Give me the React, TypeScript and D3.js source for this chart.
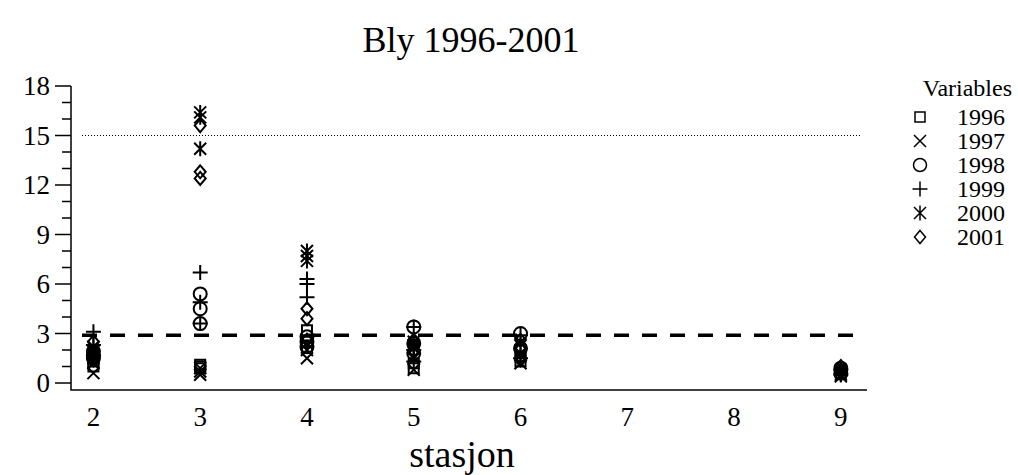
import React from "react";
import * as d3 from "d3";

// stasjoner og år
const stations = [2, 3, 4, 5, 6, 9];
const years = ["1996", "1997", "1998", "1999", "2000", "2001"];

// Bly-verdier per år, én liste per stasjon (samme rekkefølge som stations)
const bly1996 = [[1.0, 1.3, 1.8], [1.1, 1.0, 0.9], [3.2, 2.5, 2.2], [0.9, 1.2, 2.3], [1.3, 1.6, 2.0], [0.6, 0.8]];
const bly1997 = [[0.6, 1.2, 2.0], [0.9, 0.7, 0.5], [1.5, 2.0, 2.4], [0.8, 1.5, 2.1], [1.2, 1.8], [0.4, 0.7]];
const bly1998 = [[1.6, 1.9, 1.5], [5.4, 4.5, 3.6], [2.8, 2.5, 2.2], [3.4, 2.4, 1.8], [3.0, 2.1], [0.9, 0.6]];
const bly1999 = [[3.1, 2.3, 1.7], [6.7, 4.9, 3.6], [6.3, 6.0, 5.2], [3.4, 2.0, 1.3], [2.9, 1.5], [0.5, 0.8]];
const bly2000 = [[2.2, 1.5, 1.9], [16.4, 16.1, 14.2], [8.0, 7.7, 7.4], [2.5, 1.6, 2.2], [1.7, 2.4], [0.7, 0.5]];
const bly2001 = [[1.4, 1.8, 2.5], [15.6, 12.8, 12.4], [4.5, 3.9, 2.6], [2.3, 1.9, 2.6], [1.4, 2.6], [0.8, 1.0]];
const series = [bly1996, bly1997, bly1998, bly1999, bly2000, bly2001];

const yTicks = [0, 3, 6, 9, 12, 15, 18];
const xTicks = [2, 3, 4, 5, 6, 7, 8, 9];
const limitHigh = 15;
const limitLow = 2.9;

const width = 1018;
const height = 475;
const font = "'Liberation Serif', 'Times New Roman', serif";

// markørformer, s = skalering
const symbolPath = (k: number, s: number) => {
  switch (k) {
    case 0: {
      const a = 5 * s;
      return `M${-a},${-a}H${a}V${a}H${-a}Z`;
    }
    case 1: {
      const a = 6 * s;
      return `M${-a},${-a}L${a},${a}M${-a},${a}L${a},${-a}`;
    }
    case 2: {
      const r = 6.5 * s;
      return `M${r},0A${r},${r} 0 1,1 ${-r},0A${r},${r} 0 1,1 ${r},0Z`;
    }
    case 3: {
      const a = 7.5 * s;
      return `M${-a},0H${a}M0,${-a}V${a}`;
    }
    case 4: {
      const a = 7.5 * s;
      const b = 6 * s;
      return `M0,${-a}V${a}M${-b},${-b}L${b},${b}M${-b},${b}L${b},${-b}`;
    }
    default: {
      const w = 5.5 * s;
      const h = 6.5 * s;
      return `M0,${-h}L${w},0L0,${h}L${-w},0Z`;
    }
  }
};

export default function App() {
  const x = d3.scaleLinear().domain([1.79, 9.245]).range([71, 867]);
  const y = d3.scaleLinear().domain([0, 18]).range([383, 86]);
  const yBottom = 390;
  const minorTicks = d3.range(0, 19, 1).filter((v) => v % 3 !== 0);

  return (
    <svg
      width={width}
      height={height}
      style={{ display: "block", position: "absolute", left: 0, top: 0 }}
      fontFamily={font}
    >
      <rect width={width} height={height} fill="white" />
      <text x={471} y={52} textAnchor="middle" fontSize={36}>
        Bly 1996-2001
      </text>

      {/* akser */}
      <path d={`M71,86V${yBottom}H867`} fill="none" stroke="black" strokeWidth={1.5} />
      {yTicks.map((t) => (
        <g key={t}>
          <line x1={55} x2={71} y1={y(t)} y2={y(t)} stroke="black" strokeWidth={1.5} />
          <text x={50} y={y(t)} dy="0.35em" textAnchor="end" fontSize={27}>
            {t}
          </text>
        </g>
      ))}
      {minorTicks.map((t) => (
        <line key={t} x1={62} x2={71} y1={y(t)} y2={y(t)} stroke="black" strokeWidth={1.5} />
      ))}
      {xTicks.map((t) => (
        <text key={t} x={x(t)} y={417} dy="0.35em" textAnchor="middle" fontSize={27}>
          {t}
        </text>
      ))}
      <text x={462} y={467} textAnchor="middle" fontSize={38}>
        stasjon
      </text>

      {/* grenseverdier */}
      <line x1={82} x2={860} y1={y(limitHigh)} y2={y(limitHigh)} stroke="black" strokeWidth={1} strokeDasharray="1,2" />
      <line x1={82} x2={866} y1={y(limitLow)} y2={y(limitLow)} stroke="black" strokeWidth={3.5} strokeDasharray="15,13" />

      {/* punkter */}
      {series.map((byStation, k) =>
        byStation.map((vals, i) =>
          vals.map((v, j) => (
            <path
              key={`${k}-${i}-${j}`}
              transform={`translate(${x(stations[i])},${y(v)})`}
              d={symbolPath(k, 1)}
              fill="none"
              stroke="black"
              strokeWidth={2}
            />
          ))
        )
      )}

      {/* legende */}
      <text x={1012} y={96} textAnchor="end" fontSize={24}>
        Variables
      </text>
      {years.map((yr, k) => (
        <g key={yr} transform={`translate(0,${117 + k * 24})`}>
          <path transform="translate(920,0)" d={symbolPath(k, 1)} fill="none" stroke="black" strokeWidth={1.5} />
          <text x={957} y={0} dy="0.35em" fontSize={24}>
            {yr}
          </text>
        </g>
      ))}
    </svg>
  );
}
